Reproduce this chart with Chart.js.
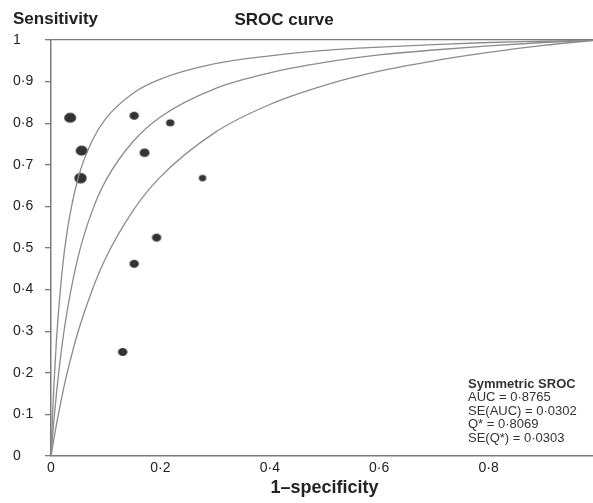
<!DOCTYPE html>
<html>
<head>
<meta charset="utf-8">
<script src="https://cdn.jsdelivr.net/npm/chart.js@4/dist/chart.umd.min.js"></script>
<style>
  html, body { margin: 0; padding: 0; background: #fff; overflow: hidden; width: 593px; height: 503px; }
  canvas { display: block; }
</style>
</head>
<body>
<canvas id="c" width="610" height="503" style="width:610px;height:503px"></canvas>
<script>
// ---- data ----
const studyFpr  = [0.035, 0.152, 0.218, 0.056, 0.171, 0.054, 0.277, 0.193, 0.152, 0.131];
const studySens = [0.813, 0.818, 0.801, 0.734, 0.729, 0.668, 0.668, 0.525, 0.462, 0.250];
const studyWeight = [6.0, 4.7, 4.2, 6.0, 5.0, 6.2, 3.7, 4.7, 4.7, 4.7];

const curveFpr   = [0, 0.002, 0.005, 0.01, 0.02, 0.03, 0.05, 0.075, 0.1, 0.15, 0.2, 0.3, 0.4, 0.5, 0.6, 0.7, 0.8, 0.9, 1];
const upperSens  = [0, 0.072, 0.162, 0.280, 0.440, 0.544, 0.670, 0.757, 0.811, 0.872, 0.906, 0.943, 0.962, 0.975, 0.983, 0.989, 0.994, 0.997, 1];
const sroсSens   = [0, 0.034, 0.081, 0.151, 0.264, 0.352, 0.481, 0.588, 0.662, 0.756, 0.815, 0.883, 0.921, 0.946, 0.964, 0.976, 0.986, 0.994, 1];
const lowerSens  = [0, 0.016, 0.039, 0.076, 0.143, 0.202, 0.301, 0.398, 0.476, 0.590, 0.671, 0.778, 0.845, 0.891, 0.925, 0.950, 0.970, 0.987, 1];

const xTickLabels = ['0', '0·2', '0·4', '0·6', '0·8', '1'];
const yTickLabels = ['0', '0·1', '0·2', '0·3', '0·4', '0·5', '0·6', '0·7', '0·8', '0·9', '1'];

const chartTitle = 'SROC curve';
const yTitle = 'Sensitivity';
const xTitle = '1–specificity';
const statsLines = ['Symmetric SROC', 'AUC = 0·8765', 'SE(AUC) = 0·0302', 'Q* = 0·8069', 'SE(Q*) = 0·0303'];

// ---- build ----
const toXY = (xs, ys) => xs.map((x, i) => ({ x: x, y: ys[i] }));
const FONT = '"Liberation Sans", Arial, sans-serif';
const DOT = '#333333';
const CURVE = '#8c8c8c';
const AXIS = '#7a7a7a';

function ellipseImage(rx) {
  const ry = rx * 0.85;
  const cv = document.createElement('canvas');
  cv.width = Math.ceil(2 * rx + 2);
  cv.height = Math.ceil(2 * ry + 2);
  const c = cv.getContext('2d');
  c.fillStyle = DOT;
  c.beginPath();
  c.ellipse(cv.width / 2, cv.height / 2, rx, ry, 0, 0, Math.PI * 2);
  c.fill();
  return cv;
}
const dotImages = studyWeight.map(ellipseImage);

const textPlugin = {
  id: 'texts',
  afterDraw(chart) {
    const ctx = chart.ctx;
    ctx.save();
    ctx.fillStyle = '#222';
    ctx.textBaseline = 'middle';
    ctx.textAlign = 'left';
    ctx.font = 'bold 17px ' + FONT;
    ctx.fillText(yTitle, 13, 19);
    ctx.textAlign = 'center';
    ctx.fillText(chartTitle, 284, 20);
    ctx.textAlign = 'left';
    ctx.fillStyle = '#333';
    statsLines.forEach((t, i) => {
      ctx.font = (i === 0 ? 'bold ' : '') + '13px ' + FONT;
      ctx.fillText(t, 468, 384 + i * 13.6);
    });
    ctx.restore();
  }
};

const curveStyle = {
  type: 'line',
  showLine: true,
  pointRadius: 0,
  borderColor: CURVE,
  borderWidth: 1.3,
  fill: false,
  cubicInterpolationMode: 'monotone'
};

new Chart(document.getElementById('c'), {
  type: 'scatter',
  data: {
    datasets: [
      Object.assign({ label: 'upper', data: toXY(curveFpr, upperSens) }, curveStyle),
      Object.assign({ label: 'SROC', data: toXY(curveFpr, sroсSens) }, curveStyle),
      Object.assign({ label: 'lower', data: toXY(curveFpr, lowerSens) }, curveStyle),
      {
        label: 'studies',
        data: toXY(studyFpr, studySens),
        pointStyle: (ctx) => dotImages[ctx.dataIndex] || 'circle',
        pointRadius: studyWeight,
        backgroundColor: DOT,
        borderColor: DOT
      }
    ]
  },
  options: {
    responsive: false,
    animation: false,
    devicePixelRatio: 1,
    layout: { padding: { left: 13, right: 12, top: 40, bottom: 0 } },
    plugins: { legend: { display: false }, tooltip: { enabled: false }, title: { display: false } },
    scales: {
      x: {
        type: 'linear',
        min: 0, max: 1,
        afterFit: (s) => { s.height = 47; },
        ticks: {
          stepSize: 0.2,
          padding: 4,
          color: '#222',
          font: { family: FONT, size: 14 },
          maxRotation: 0,
          callback: (v, i) => xTickLabels[i]
        },
        grid: { display: true, drawOnChartArea: false, drawTicks: false },
        border: { display: true, color: AXIS, width: 1.5 },
        title: {
          display: true,
          text: xTitle,
          color: '#222',
          font: { family: FONT, size: 18, weight: 'bold' },
          padding: { top: 2, bottom: 4 }
        }
      },
      y: {
        type: 'linear',
        min: 0, max: 1,
        afterFit: (s) => { s.width = 38; },
        ticks: {
          stepSize: 0.1,
          padding: 4,
          crossAlign: 'far',
          color: '#222',
          font: { family: FONT, size: 14 },
          callback: (v, i) => yTickLabels[i]
        },
        grid: {
          drawOnChartArea: true,
          drawTicks: true,
          tickLength: 6,
          tickColor: AXIS,
          lineWidth: 1.3,
          color: (ctx) => (ctx.tick && ctx.tick.value === 1) ? AXIS : 'rgba(0,0,0,0)'
        },
        border: { display: true, color: AXIS, width: 1.5 }
      }
    }
  },
  plugins: [textPlugin]
});
</script>
</body>
</html>
